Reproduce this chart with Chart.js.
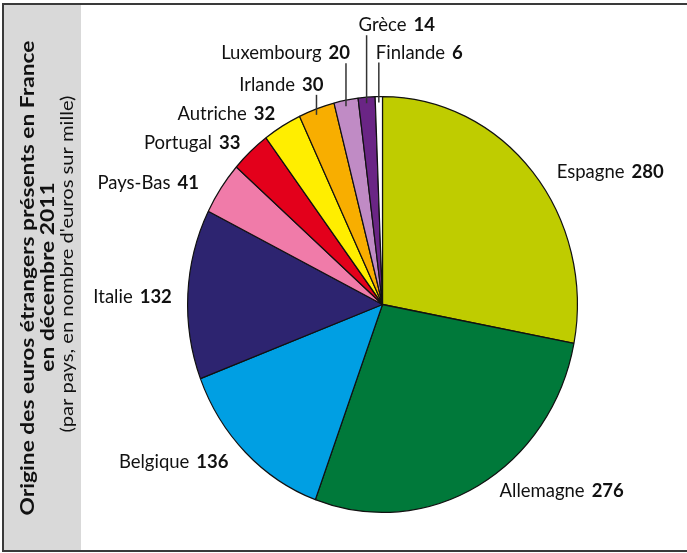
<!DOCTYPE html>
<html>
<head>
<meta charset="utf-8">
<script src="https://cdn.jsdelivr.net/npm/chart.js@4/dist/chart.umd.min.js"></script>
<style>
  html, body { margin: 0; padding: 0; background: #ffffff; }
  #wrap { width: 687px; height: 553px; position: relative; }
</style>
</head>
<body>
<div id="wrap"><canvas id="c" width="687" height="553"></canvas></div>
<script>
// ---- Data ----
const countries = ["Espagne", "Allemagne", "Belgique", "Italie", "Pays-Bas", "Portugal",
                   "Autriche", "Irlande", "Luxembourg", "Grèce", "Finlande"];
const values = [280, 276, 136, 132, 41, 33, 32, 30, 20, 14, 6];
const sliceColors = ["#bfcc00", "#00793a", "#009fe3", "#2d2470", "#f07ba9", "#e3001b",
                     "#ffee00", "#f8ae00", "#c08bc5", "#6a2585", "#ffffff"];
const titleLines = ["Origine des euros étrangers présents en France", "en décembre 2011",
                    "(par pays, en nombre d'euros sur mille)"];

// ---- Label layout (style, relative to each slice's outer mid point) ----
const labelLayout = [
  { align: "left",  dx: 24,  dy: 0 },
  { align: "left",  dx: 21,  dy: 6 },
  { align: "right", dx: -17, dy: 10 },
  { align: "right", dx: -16, dy: 3 },
  { align: "right", dx: -22, dy: -5 },
  { align: "right", dx: -10, dy: -9 },
  { align: "right", dx: -7,  dy: -12 },
  { align: "right", dx: 7,   dy: -24, leader: true },
  { align: "right", dx: 4,   dy: -47, leader: true },
  { align: "left",  dx: -8,  dy: -72, leader: true },
  { align: "left",  dx: -3,  dy: -44, leader: true }
];
const ySquash = 1.067; // reference pie is slightly taller than wide
const FONT = "Lato, 'Open Sans', sans-serif";
const LABEL_SIZE = 18.5;

function stretchedText(ctx, text, x, y, targetW) {
  const w = ctx.measureText(text).width;
  const k = targetW / w;
  ctx.save();
  ctx.translate(x, y);
  ctx.scale(k, 1);
  ctx.fillText(text, 0, 0);
  ctx.restore();
}

const framePlugin = {
  id: "frame",
  beforeDraw(chart) {
    const ctx = chart.ctx;
    ctx.save();
    ctx.fillStyle = "#ffffff";
    ctx.fillRect(0, 0, chart.width, chart.height);
    ctx.fillStyle = "#d9d9d9";
    ctx.fillRect(3, 4, 78, 547);
    ctx.strokeStyle = "#3a3a3a";
    ctx.lineWidth = 2;
    ctx.beginPath();
    ctx.moveTo(chart.width, 4);
    ctx.lineTo(3, 4);
    ctx.lineTo(3, 551);
    ctx.lineTo(chart.width, 551);
    ctx.stroke();
    // rotated title
    ctx.translate(0, 0);
    ctx.rotate(-Math.PI / 2);
    ctx.fillStyle = "#111111";
    ctx.textAlign = "center";
    ctx.textBaseline = "alphabetic";
    ctx.font = "bold 19px " + FONT;
    const k1 = 475 / ctx.measureText(titleLines[0]).width;
    stretchedText(ctx, titleLines[0], -278, 34, 475);
    stretchedText(ctx, titleLines[1], -277, 54, ctx.measureText(titleLines[1]).width * k1);
    ctx.font = "16.5px " + FONT;
    stretchedText(ctx, titleLines[2], -264, 73, 337);
    ctx.restore();
  }
};

const squashPlugin = {
  id: "squash",
  beforeDatasetsDraw(chart) {
    const arc = chart.getDatasetMeta(0).data[0];
    const ctx = chart.ctx;
    ctx.save();
    ctx.translate(arc.x, arc.y);
    ctx.scale(1, ySquash);
    ctx.translate(-arc.x, -arc.y);
  },
  afterDatasetsDraw(chart) {
    chart.ctx.restore();
  }
};

const labelPlugin = {
  id: "labels",
  afterDraw(chart) {
    const ctx = chart.ctx;
    const meta = chart.getDatasetMeta(0);
    ctx.save();
    ctx.textBaseline = "middle";
    ctx.fillStyle = "#111111";
    meta.data.forEach((arc, i) => {
      const p = arc.getProps(["x", "y", "startAngle", "endAngle", "outerRadius"], true);
      const mid = (p.startAngle + p.endAngle) / 2;
      const ax = p.x + Math.cos(mid) * p.outerRadius;
      const ay = p.y + Math.sin(mid) * p.outerRadius * ySquash;
      const L = labelLayout[i];
      const tx = ax + L.dx, ty = ay + L.dy;
      const name = countries[i];
      const val = String(values[i]);
      ctx.font = LABEL_SIZE + "px " + FONT;
      const wn = ctx.measureText(name).width;
      ctx.font = "bold " + LABEL_SIZE + "px " + FONT;
      const wv = ctx.measureText(val).width;
      const gap = 7;
      const total = wn + gap + wv;
      const x0 = L.align === "left" ? tx : tx - total;
      ctx.textAlign = "left";
      ctx.font = LABEL_SIZE + "px " + FONT;
      ctx.fillText(name, x0, ty);
      ctx.font = "bold " + LABEL_SIZE + "px " + FONT;
      ctx.fillText(val, x0 + wn + gap, ty);
      if (L.leader) {
        ctx.strokeStyle = "#333333";
        ctx.lineWidth = 1.5;
        ctx.beginPath();
        ctx.moveTo(ax, ty + 10);
        ctx.lineTo(ax, ay + 6);
        ctx.stroke();
      }
    });
    ctx.restore();
  }
};

new Chart(document.getElementById("c"), {
  type: "pie",
  data: {
    labels: countries,
    datasets: [{
      data: values,
      backgroundColor: sliceColors,
      borderColor: "#111111",
      borderWidth: 1.2,
      clip: false
    }]
  },
  options: {
    responsive: false,
    animation: false,
    events: [],
    layout: { padding: { left: 187, right: 109, top: 109, bottom: 53 } },
    plugins: { legend: { display: false }, tooltip: { enabled: false } }
  },
  plugins: [framePlugin, squashPlugin, labelPlugin]
});
</script>
</body>
</html>
